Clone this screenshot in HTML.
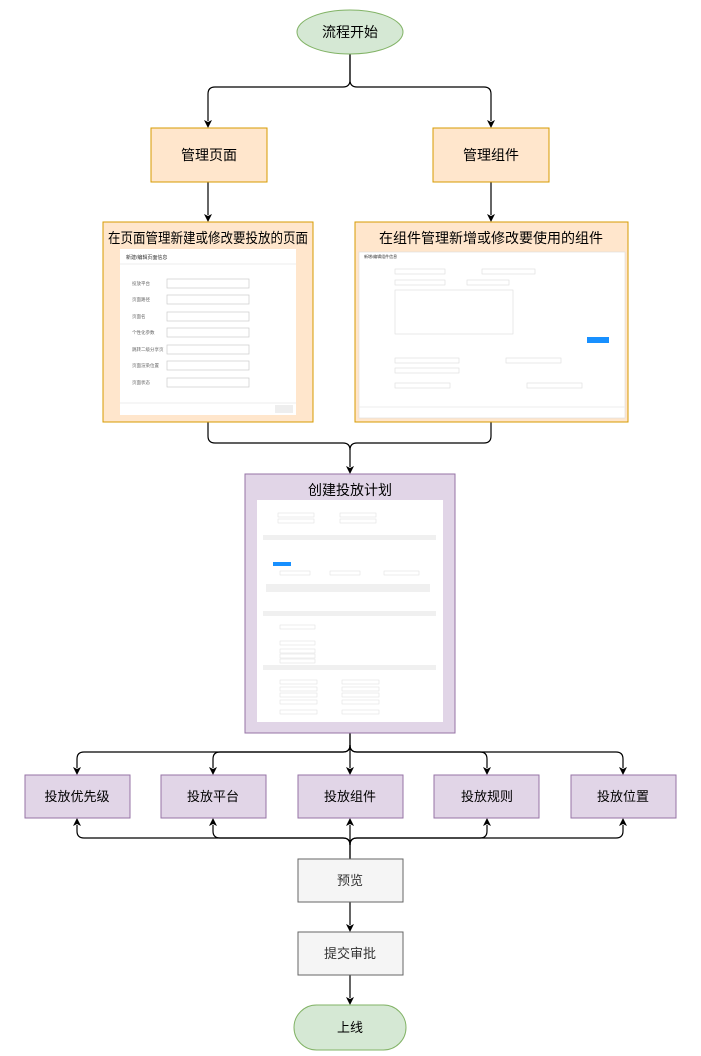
<!DOCTYPE html>
<html><head><meta charset="utf-8"><style>
html,body{margin:0;padding:0;background:#fff;}
svg{display:block;}
text{font-family:"Liberation Sans","Noto Sans CJK SC",sans-serif;}
</style></head><body>
<svg width="701" height="1056" viewBox="0 0 701 1056" xmlns="http://www.w3.org/2000/svg">
<g fill="none" stroke="#000" stroke-width="1.2">
<path d="M350,54 V80 Q350,87 343,87 H215 Q208,87 208,94 V121"/>
<path d="M350,54 V80 Q350,87 357,87 H484 Q491,87 491,94 V121"/>
<path d="M208,182 V215"/>
<path d="M491,182 V215"/>
<path d="M208,422 V436 Q208,443 215,443 H343 Q350,443 350,450 V467"/>
<path d="M491,422 V436 Q491,443 484,443 H357 Q350,443 350,450"/>
<path d="M350,733 V745 Q350,752 343,752 H84 Q77,752 77,759 V768"/>
<path d="M350,745 Q350,752 343,752 H220 Q213,752 213,759 V768"/>
<path d="M350,733 V768"/>
<path d="M350,745 Q350,752 357,752 H480 Q487,752 487,759 V768"/>
<path d="M350,745 Q350,752 357,752 H616 Q623,752 623,759 V768"/>
<path d="M350,859 V845 Q350,838 343,838 H84 Q77,838 77,831 V825"/>
<path d="M350,845 Q350,838 343,838 H220 Q213,838 213,831 V825"/>
<path d="M350,859 V825"/>
<path d="M350,845 Q350,838 357,838 H480 Q487,838 487,831 V825"/>
<path d="M350,845 Q350,838 357,838 H616 Q623,838 623,831 V825"/>
<path d="M350,902 V925"/>
<path d="M350,975 V998"/>
</g>
<g fill="#000">
<path d="M204,120 L208,128 L212,120 L208,122Z"/><path d="M487,120 L491,128 L495,120 L491,122Z"/>
<path d="M204,214 L208,222 L212,214 L208,216Z"/><path d="M487,214 L491,222 L495,214 L491,216Z"/>
<path d="M346,466 L350,474 L354,466 L350,468Z"/>
<path d="M73,767 L77,775 L81,767 L77,769Z"/><path d="M209,767 L213,775 L217,767 L213,769Z"/><path d="M346,767 L350,775 L354,767 L350,769Z"/><path d="M483,767 L487,775 L491,767 L487,769Z"/><path d="M619,767 L623,775 L627,767 L623,769Z"/>
<path d="M73,826 L77,818 L81,826 L77,824Z"/><path d="M209,826 L213,818 L217,826 L213,824Z"/><path d="M346,826 L350,818 L354,826 L350,824Z"/><path d="M483,826 L487,818 L491,826 L487,824Z"/><path d="M619,826 L623,818 L627,826 L623,824Z"/>
<path d="M346,924 L350,932 L354,924 L350,926Z"/>
<path d="M346,997 L350,1005 L354,997 L350,999Z"/>
</g>
<ellipse cx="350" cy="32" rx="53" ry="22" fill="#d5e8d4" stroke="#82b366"/>
<text x="350" y="37" font-size="14" text-anchor="middle">流程开始</text>
<rect x="151" y="128" width="116" height="54" fill="#ffe6cc" stroke="#d79b00"/>
<text x="209" y="160" font-size="14" text-anchor="middle">管理页面</text>
<rect x="433" y="128" width="116" height="54" fill="#ffe6cc" stroke="#d79b00"/>
<text x="491" y="160" font-size="14" text-anchor="middle">管理组件</text>
<rect x="103" y="222" width="210" height="200" fill="#ffe6cc" stroke="#d79b00"/>
<text x="108" y="243" font-size="14" textLength="200" lengthAdjust="spacingAndGlyphs">在页面管理新建或修改要投放的页面</text>
<rect x="120" y="249" width="176" height="166" fill="#fff"/>
<text x="126" y="259" font-size="5" fill="#333">新建/编辑页面信息</text>
<line x1="120" y1="264" x2="296" y2="264" stroke="#eee"/>
<g font-size="4.5" fill="#666">
<text x="132" y="285">投放平台</text><text x="132" y="301">页面路径</text><text x="132" y="318">页面名</text><text x="132" y="334">个性化参数</text><text x="132" y="351">跳转二级分享页</text><text x="132" y="367">页面渲染位置</text><text x="132" y="384">页面状态</text>
</g>
<g fill="#fff" stroke="#ccc" stroke-width="0.7">
<rect x="167" y="279" width="82" height="9"/><rect x="167" y="295" width="82" height="9"/><rect x="167" y="312" width="82" height="9"/><rect x="167" y="328" width="82" height="9"/><rect x="167" y="345" width="82" height="9"/><rect x="167" y="361" width="82" height="9"/><rect x="167" y="378" width="82" height="9"/>
</g>
<line x1="120" y1="403" x2="296" y2="403" stroke="#eee"/>
<rect x="275" y="405" width="18" height="8" fill="#eee"/>
<rect x="355" y="222" width="273" height="200" fill="#ffe6cc" stroke="#d79b00"/>
<text x="491" y="243" font-size="14" text-anchor="middle">在组件管理新增或修改要使用的组件</text>
<rect x="359" y="252" width="266" height="166" fill="#fff" stroke="#ddd" stroke-width="0.6"/>
<text x="364" y="258" font-size="4" fill="#333">新增/编辑组件信息</text>
<g fill="#fff" stroke="#ddd" stroke-width="0.6">
<rect x="395" y="269" width="50" height="5"/><rect x="482" y="269" width="53" height="5"/><rect x="395" y="280" width="50" height="5"/><rect x="467" y="280" width="42" height="5"/><rect x="395" y="290" width="118" height="44"/>
<rect x="395" y="358" width="64" height="5"/><rect x="506" y="358" width="55" height="5"/><rect x="395" y="368" width="64" height="5"/><rect x="395" y="383" width="55" height="5"/><rect x="527" y="383" width="55" height="5"/>
</g>
<rect x="587" y="337" width="22" height="6" fill="#1890ff"/>
<line x1="359" y1="407" x2="625" y2="407" stroke="#eee"/>
<rect x="245" y="474" width="210" height="259" fill="#e1d5e7" stroke="#9673a6"/>
<text x="350" y="495" font-size="14" text-anchor="middle">创建投放计划</text>
<rect x="257" y="500" width="186" height="222" fill="#fff"/>
<g fill="#f0f0f0">
<rect x="263" y="535" width="173" height="5"/><rect x="263" y="611" width="173" height="5"/><rect x="263" y="665" width="173" height="5"/>
<rect x="266" y="584" width="164" height="8"/>
</g>
<rect x="273" y="562" width="18" height="4" fill="#1890ff"/>
<g fill="none" stroke="#ddd" stroke-width="0.5">
<rect x="278" y="513" width="36" height="4"/><rect x="340" y="513" width="36" height="4"/><rect x="278" y="519" width="36" height="4"/><rect x="340" y="519" width="36" height="4"/>
<rect x="280" y="571" width="30" height="4"/><rect x="330" y="571" width="30" height="4"/><rect x="384" y="571" width="35" height="4"/>
<rect x="280" y="625" width="35" height="4"/><rect x="280" y="641" width="35" height="4"/><rect x="280" y="649" width="35" height="4"/><rect x="280" y="654" width="35" height="4"/><rect x="280" y="659" width="35" height="4"/>
<rect x="280" y="680" width="37" height="4"/><rect x="342" y="680" width="37" height="4"/><rect x="280" y="687" width="37" height="4"/><rect x="342" y="687" width="37" height="4"/><rect x="280" y="693" width="37" height="4"/><rect x="342" y="693" width="37" height="4"/><rect x="280" y="700" width="37" height="4"/><rect x="342" y="700" width="37" height="4"/><rect x="280" y="710" width="37" height="4"/><rect x="342" y="710" width="37" height="4"/>
</g>
<g fill="#e1d5e7" stroke="#9673a6">
<rect x="25" y="775" width="105" height="43"/><rect x="161" y="775" width="105" height="43"/><rect x="298" y="775" width="105" height="43"/><rect x="434" y="775" width="105" height="43"/><rect x="571" y="775" width="105" height="43"/>
</g>
<g font-size="13" text-anchor="middle">
<text x="77" y="801">投放优先级</text><text x="213" y="801">投放平台</text><text x="350" y="801">投放组件</text><text x="487" y="801">投放规则</text><text x="623" y="801">投放位置</text>
</g>
<rect x="298" y="859" width="105" height="43" fill="#f5f5f5" stroke="#666"/>
<text x="350" y="885" font-size="13" text-anchor="middle" fill="#333">预览</text>
<rect x="298" y="932" width="105" height="43" fill="#f5f5f5" stroke="#666"/>
<text x="350" y="958" font-size="13" text-anchor="middle" fill="#333">提交审批</text>
<rect x="294" y="1005" width="112" height="45" rx="22.5" fill="#d5e8d4" stroke="#82b366"/>
<text x="350" y="1032" font-size="13" text-anchor="middle">上线</text>
</svg>
</body></html>
